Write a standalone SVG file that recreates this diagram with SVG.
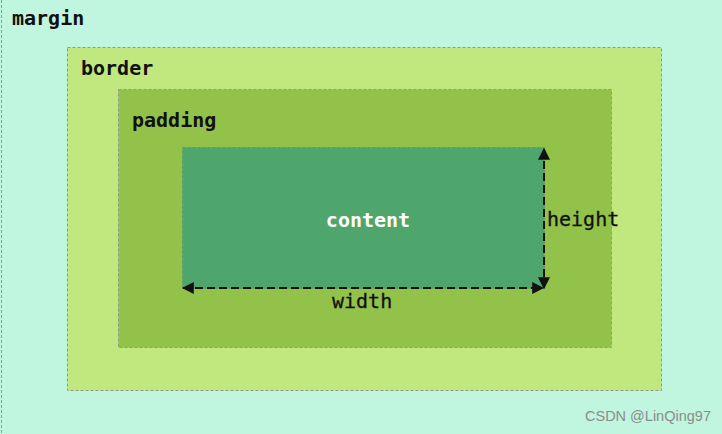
<svg xmlns="http://www.w3.org/2000/svg" width="722" height="434" viewBox="0 0 722 434">
  <defs>
    <style>
      .box { stroke: #8f9a8f; stroke-width: 1; stroke-dasharray: 3 2; }
      .lbl { font-family: "DejaVu Sans Mono", "Liberation Mono", monospace; font-size: 20px; font-weight: bold; fill: #111; }
      .dim { font-family: "DejaVu Sans Mono", "Liberation Mono", monospace; font-size: 20px; fill: #111; stroke: #111; stroke-width: 0.3; }
      .conn { stroke: #111; stroke-width: 2; stroke-dasharray: 8 4; fill: none; }
    </style>
    <marker id="arr" viewBox="0 0 10 10" refX="9" refY="5" markerWidth="6" markerHeight="6" orient="auto-start-reverse" markerUnits="strokeWidth">
      <path d="M0,0 L10,5 L0,10 z" fill="#111"/>
    </marker>
  </defs>
  <g id="margin">
    <rect x="0" y="0" width="722" height="434" fill="#c0f5df"/>
    <line x1="1.5" y1="0" x2="1.5" y2="434" class="box"/>
    <text x="12" y="25" class="lbl">margin</text>
  </g>
  <g id="border">
    <rect x="67.5" y="47.5" width="594" height="343" fill="#c0e87e" class="box"/>
    <text x="81" y="75" class="lbl">border</text>
  </g>
  <g id="padding">
    <rect x="118.5" y="89.5" width="493" height="258" fill="#92c24a" class="box"/>
    <text x="132" y="127" class="lbl">padding</text>
  </g>
  <g id="content">
    <rect x="182.5" y="147.5" width="362" height="141" fill="#4ea66c" stroke="#5d9c6a" stroke-width="1" stroke-dasharray="3 2"/>
    <text x="368" y="227" class="lbl" style="fill:#fff" text-anchor="middle">content</text>
  </g>
  <g id="connectors">
    <line x1="544" y1="149" x2="544" y2="288" class="conn" marker-start="url(#arr)" marker-end="url(#arr)"/>
    <line x1="183" y1="288" x2="543" y2="288" class="conn" marker-start="url(#arr)" marker-end="url(#arr)"/>
  </g>
  <g id="labels">
    <text x="547" y="226" class="dim">height</text>
    <text x="332" y="308" class="dim">width</text>
  </g>
  <text x="585" y="421" font-family="Liberation Sans, Arial, sans-serif" font-size="14.5" fill="#8c8c8c">CSDN @LinQing97</text>
</svg>
